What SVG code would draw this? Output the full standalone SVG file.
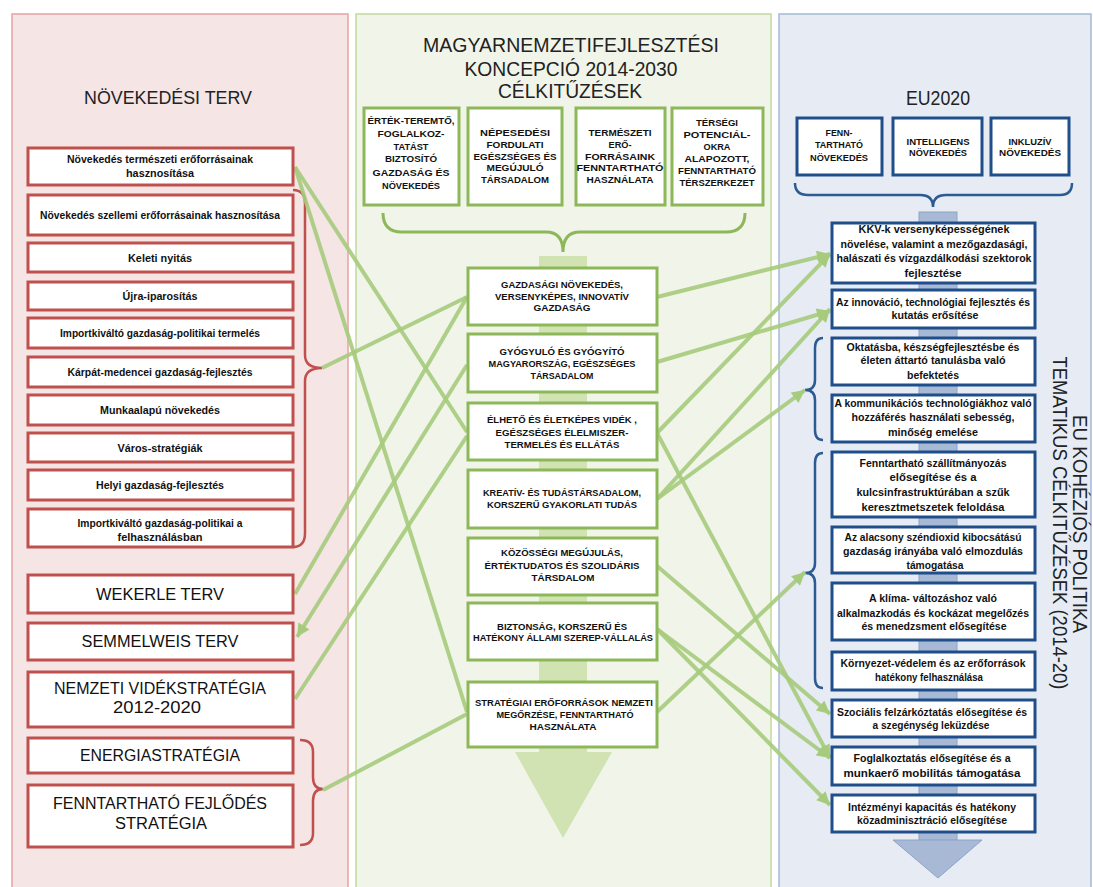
<svg xmlns="http://www.w3.org/2000/svg" width="1093" height="887" viewBox="0 0 1093 887">
<defs>
<style>
text{font-family:"Liberation Sans",Arial,sans-serif;fill:#111;text-anchor:middle}
.ls{font-size:10.5px;font-weight:bold}
.lb{font-size:16px}
.ms{font-size:9px;font-weight:bold}
.ts{font-size:9.5px;font-weight:bold}
.rs{font-size:10.5px;font-weight:bold}
.hd{font-size:20px;fill:#222}
.rb{fill:#fff;stroke:#c0504d;stroke-width:3}
.gb{fill:#fff;stroke:#8db85a;stroke-width:3}
.bb{fill:#fff;stroke:#1f4e8a;stroke-width:3}
.con{fill:none;stroke:#a6cb7c;stroke-width:4;stroke-opacity:0.9}
.brr{fill:none;stroke:#c0504d;stroke-width:2.5}
.brg{fill:none;stroke:#8db85a;stroke-width:3}
.brb{fill:none;stroke:#2c5a92;stroke-width:2.5}
</style>
<marker id="ah" viewBox="0 0 10 10" refX="10" refY="5" markerUnits="userSpaceOnUse" markerWidth="14" markerHeight="13" orient="auto">
<path d="M0,0 L10,5 L0,10 z" fill="#a6cb7c"/>
</marker>
</defs>

<!-- panels -->
<rect x="12" y="14" width="336" height="880" fill="#f5e5e5" stroke="#e6a3a3" stroke-width="1.5"/>
<rect x="356" y="14" width="415" height="880" fill="#f1f4e8" stroke="#c2d99e" stroke-width="1.5"/>
<rect x="779" y="14" width="312" height="880" fill="#e7ecf4" stroke="#a5b9d7" stroke-width="1.5"/>

<!-- headers -->
<text class="hd" x="168" y="104" textLength="168" lengthAdjust="spacingAndGlyphs" style="font-size:19px">NÖVEKEDÉSI TERV</text>
<text class="hd" x="571" y="52" textLength="296" lengthAdjust="spacingAndGlyphs">MAGYARNEMZETIFEJLESZTÉSI</text>
<text class="hd" x="571" y="76" textLength="213" lengthAdjust="spacingAndGlyphs">KONCEPCIÓ  2014-2030</text>
<text class="hd" x="570" y="98" textLength="144" lengthAdjust="spacingAndGlyphs">CÉLKITŰZÉSEK</text>
<text class="hd" x="938" y="105" textLength="64" lengthAdjust="spacingAndGlyphs">EU2020</text>
<text class="hd" transform="translate(1073,524) rotate(90)" textLength="218" lengthAdjust="spacingAndGlyphs">EU KOHÉZIÓS POLITIKA</text>
<text class="hd" transform="translate(1053,523) rotate(90)" textLength="333" lengthAdjust="spacingAndGlyphs">TEMATIKUS CÉLKITŰZÉSEK (2014-20)</text>

<!-- vertical bands -->
<g id="green-flow">
<rect x="539" y="256" width="48" height="496" fill="#d2e3b3"/>
<path d="M515,752 L612,752 L563,838 z" fill="#d2e3b3"/>
</g>
<g id="blue-flow">
<rect x="919" y="212" width="38" height="628" fill="#a7b9d5" stroke="#8ea4c8" stroke-width="1"/>
<path d="M893,840 L982,840 L938,878 z" fill="#a7b9d5" stroke="#8ea4c8" stroke-width="1"/>
</g>

<!-- braces -->
<g id="braces">
<path class="brr" d="M293,190 Q305,190 305,203 L305,355 Q305,368 322,368 Q305,368 305,381 L305,533 Q305,547 293,547"/>
<path class="brr" d="M300,740 Q313,740 313,752 L313,777 Q313,789 323,789 Q313,789 313,801 L313,833 Q313,845 300,845"/>
<path class="brg" d="M383,213 Q383,232 402,232 L546,232 Q563,232 563,252 Q563,232 580,232 L726,232 Q745,232 745,213"/>
<path class="brb" d="M795,183 Q795,195 808,195 L920,195 Q933,195 933,207 Q933,195 946,195 L1060,195 Q1072,195 1072,183"/>
<path class="brb" d="M823,338 Q815,338 815,348 L815,380 Q815,390 805,390 Q815,390 815,400 L815,430 Q815,440 823,440"/>
<path class="brb" d="M823,453 Q815,453 815,463 L815,563 Q815,573 805,573 Q815,573 815,583 L815,678 Q815,688 823,688"/>
</g>

<!-- connectors -->
<g id="connectors">
<line class="con" x1="295" y1="167" x2="467" y2="432"/>
<line class="con" x1="295" y1="167" x2="467" y2="712"/>
<line class="con" x1="322" y1="368" x2="467" y2="297"/>
<line class="con" x1="467" y1="297" x2="295" y2="594"/>
<line class="con" x1="467" y1="365" x2="297" y2="637" marker-end="url(#ah)"/>
<line class="con" x1="467" y1="436" x2="295" y2="699"/>
<line class="con" x1="467" y1="714" x2="323" y2="790"/>
<line class="con" x1="657" y1="297" x2="830" y2="254" marker-end="url(#ah)"/>
<line class="con" x1="657" y1="362" x2="830" y2="311" marker-end="url(#ah)"/>
<line class="con" x1="657" y1="433" x2="830" y2="254" marker-end="url(#ah)"/>
<line class="con" x1="657" y1="433" x2="830" y2="758" marker-end="url(#ah)"/>
<line class="con" x1="657" y1="499" x2="830" y2="309" marker-end="url(#ah)"/>
<line class="con" x1="657" y1="499" x2="805" y2="390" marker-end="url(#ah)"/>
<line class="con" x1="657" y1="566" x2="830" y2="714" marker-end="url(#ah)"/>
<line class="con" x1="657" y1="629" x2="830" y2="758" marker-end="url(#ah)"/>
<line class="con" x1="657" y1="629" x2="830" y2="805" marker-end="url(#ah)"/>
<line class="con" x1="657" y1="712" x2="805" y2="572" marker-end="url(#ah)"/>
</g>

<!-- left nodes -->
<g id="n-l1"><rect class="rb" x="28" y="148" width="265" height="37"/><text class="ls" x="160" y="163" textLength="186" lengthAdjust="spacingAndGlyphs">Növekedés természeti erőforrásainak</text><text class="ls" x="160" y="177" textLength="68" lengthAdjust="spacingAndGlyphs">hasznosítása</text></g>
<g id="n-l2"><rect class="rb" x="28" y="195" width="265" height="40"/><text class="ls" x="160" y="219" textLength="240" lengthAdjust="spacingAndGlyphs">Növekedés szellemi erőforrásainak hasznosítása</text></g>
<g id="n-l3"><rect class="rb" x="28" y="243" width="265" height="29"/><text class="ls" x="160" y="262" textLength="64" lengthAdjust="spacingAndGlyphs">Keleti nyitás</text></g>
<g id="n-l4"><rect class="rb" x="28" y="282" width="265" height="28"/><text class="ls" x="160" y="300" textLength="75" lengthAdjust="spacingAndGlyphs">Újra-iparosítás</text></g>
<g id="n-l5"><rect class="rb" x="28" y="318" width="265" height="30"/><text class="ls" x="160" y="337" textLength="200" lengthAdjust="spacingAndGlyphs">Importkiváltó gazdaság-politikai termelés</text></g>
<g id="n-l6"><rect class="rb" x="28" y="357" width="265" height="30"/><text class="ls" x="160" y="376" textLength="185" lengthAdjust="spacingAndGlyphs">Kárpát-medencei gazdaság-fejlesztés</text></g>
<g id="n-l7"><rect class="rb" x="28" y="395" width="265" height="30"/><text class="ls" x="160" y="414" textLength="120" lengthAdjust="spacingAndGlyphs">Munkaalapú növekedés</text></g>
<g id="n-l8"><rect class="rb" x="28" y="433" width="265" height="29"/><text class="ls" x="160" y="452" textLength="85" lengthAdjust="spacingAndGlyphs">Város-stratégiák</text></g>
<g id="n-l9"><rect class="rb" x="28" y="470" width="265" height="30"/><text class="ls" x="160" y="489" textLength="128" lengthAdjust="spacingAndGlyphs">Helyi gazdaság-fejlesztés</text></g>
<g id="n-l10"><rect class="rb" x="28" y="509" width="265" height="38"/><text class="ls" x="160" y="527" textLength="165" lengthAdjust="spacingAndGlyphs">Importkiváltó gazdaság-politikai a</text><text class="ls" x="160" y="541" textLength="85" lengthAdjust="spacingAndGlyphs">felhasználásban</text></g>
<g id="n-l11"><rect class="rb" x="28" y="575" width="265" height="38"/><text class="lb" x="160" y="600" textLength="128" lengthAdjust="spacingAndGlyphs">WEKERLE TERV</text></g>
<g id="n-l12"><rect class="rb" x="28" y="623" width="265" height="37"/><text class="lb" x="160" y="647" textLength="157" lengthAdjust="spacingAndGlyphs">SEMMELWEIS TERV</text></g>
<g id="n-l13"><rect class="rb" x="28" y="672" width="265" height="55"/><text class="lb" x="160" y="694" textLength="212" lengthAdjust="spacingAndGlyphs">NEMZETI VIDÉKSTRATÉGIA</text><text class="lb" x="157" y="713" textLength="88" lengthAdjust="spacingAndGlyphs">2012-2020</text></g>
<g id="n-l14"><rect class="rb" x="28" y="738" width="265" height="35"/><text class="lb" x="160" y="761" textLength="160" lengthAdjust="spacingAndGlyphs">ENERGIASTRATÉGIA</text></g>
<g id="n-l15"><rect class="rb" x="28" y="785" width="265" height="62"/><text class="lb" x="160" y="809" textLength="214" lengthAdjust="spacingAndGlyphs">FENNTARTHATÓ FEJLŐDÉS</text><text class="lb" x="161" y="829" textLength="92" lengthAdjust="spacingAndGlyphs">STRATÉGIA</text></g>

<!-- middle top nodes -->
<g id="n-t1"><rect class="gb" x="364" y="108" width="95" height="97"/>
<text class="ts" x="411" y="124" textLength="87" lengthAdjust="spacingAndGlyphs">ÉRTÉK-TEREMTŐ,</text>
<text class="ts" x="411" y="137" textLength="67" lengthAdjust="spacingAndGlyphs">FOGLALKOZ-</text>
<text class="ts" x="411" y="150" textLength="35" lengthAdjust="spacingAndGlyphs">TATÁST</text>
<text class="ts" x="411" y="162" textLength="52" lengthAdjust="spacingAndGlyphs">BIZTOSÍTÓ</text>
<text class="ts" x="411" y="176" textLength="77" lengthAdjust="spacingAndGlyphs">GAZDASÁG ÉS</text>
<text class="ts" x="411" y="189" textLength="58" lengthAdjust="spacingAndGlyphs">NÖVEKEDÉS</text></g>
<g id="n-t2"><rect class="gb" x="468" y="108" width="94" height="97"/>
<text class="ts" x="515" y="136" textLength="70" lengthAdjust="spacingAndGlyphs">NÉPESEDÉSI</text>
<text class="ts" x="515" y="148" textLength="57" lengthAdjust="spacingAndGlyphs">FORDULATI</text>
<text class="ts" x="515" y="160" textLength="83" lengthAdjust="spacingAndGlyphs">EGÉSZSÉGES ÉS</text>
<text class="ts" x="515" y="171" textLength="57" lengthAdjust="spacingAndGlyphs">MEGÚJULÓ</text>
<text class="ts" x="515" y="183" textLength="68" lengthAdjust="spacingAndGlyphs">TÁRSADALOM</text></g>
<g id="n-t3"><rect class="gb" x="576" y="108" width="89" height="97"/>
<text class="ts" x="620" y="136" textLength="63" lengthAdjust="spacingAndGlyphs">TERMÉSZETI</text>
<text class="ts" x="620" y="148" textLength="23" lengthAdjust="spacingAndGlyphs">ERŐ-</text>
<text class="ts" x="620" y="160" textLength="70" lengthAdjust="spacingAndGlyphs">FORRÁSAINK</text>
<text class="ts" x="620" y="171" textLength="87" lengthAdjust="spacingAndGlyphs">FENNTARTHATÓ</text>
<text class="ts" x="620" y="183" textLength="67" lengthAdjust="spacingAndGlyphs">HASZNÁLATA</text></g>
<g id="n-t4"><rect class="gb" x="672" y="108" width="91" height="97"/>
<text class="ts" x="717" y="126" textLength="42" lengthAdjust="spacingAndGlyphs">TÉRSÉGI</text>
<text class="ts" x="717" y="138" textLength="67" lengthAdjust="spacingAndGlyphs">POTENCIÁL-</text>
<text class="ts" x="717" y="150" textLength="27" lengthAdjust="spacingAndGlyphs">OKRA</text>
<text class="ts" x="717" y="162" textLength="65" lengthAdjust="spacingAndGlyphs">ALAPOZOTT,</text>
<text class="ts" x="717" y="174" textLength="78" lengthAdjust="spacingAndGlyphs">FENNTARTHATÓ</text>
<text class="ts" x="717" y="186" textLength="75" lengthAdjust="spacingAndGlyphs">TÉRSZERKEZET</text></g>

<!-- middle nodes -->
<g id="n-ma"><rect class="gb" x="468" y="268" width="189" height="57"/>
<text class="ms" x="562" y="288" textLength="122" lengthAdjust="spacingAndGlyphs">GAZDASÁGI NÖVEKEDÉS,</text>
<text class="ms" x="562" y="300" textLength="134" lengthAdjust="spacingAndGlyphs">VERSENYKÉPES, INNOVATÍV</text>
<text class="ms" x="562" y="311" textLength="57" lengthAdjust="spacingAndGlyphs">GAZDASÁG</text></g>
<g id="n-mb"><rect class="gb" x="468" y="334" width="189" height="58"/>
<text class="ms" x="562" y="355" textLength="125" lengthAdjust="spacingAndGlyphs">GYÓGYULÓ ÉS GYÓGYÍTÓ</text>
<text class="ms" x="562" y="367" textLength="147" lengthAdjust="spacingAndGlyphs">MAGYARORSZÁG, EGÉSZSÉGES</text>
<text class="ms" x="562" y="379" textLength="63" lengthAdjust="spacingAndGlyphs">TÁRSADALOM</text></g>
<g id="n-mc"><rect class="gb" x="468" y="403" width="189" height="57"/>
<text class="ms" x="562" y="423" textLength="150" lengthAdjust="spacingAndGlyphs">ÉLHETŐ ÉS ÉLETKÉPES VIDÉK ,</text>
<text class="ms" x="562" y="436" textLength="133" lengthAdjust="spacingAndGlyphs">EGÉSZSÉGES ÉLELMISZER-</text>
<text class="ms" x="562" y="448" textLength="115" lengthAdjust="spacingAndGlyphs">TERMELÉS ÉS ELLÁTÁS</text></g>
<g id="n-md"><rect class="gb" x="468" y="470" width="189" height="58"/>
<text class="ms" x="562" y="496" textLength="158" lengthAdjust="spacingAndGlyphs">KREATÍV- ÉS TUDÁSTÁRSADALOM,</text>
<text class="ms" x="562" y="508" textLength="150" lengthAdjust="spacingAndGlyphs">KORSZERŰ GYAKORLATI TUDÁS</text></g>
<g id="n-me"><rect class="gb" x="468" y="538" width="189" height="57"/>
<text class="ms" x="562" y="556" textLength="122" lengthAdjust="spacingAndGlyphs">KÖZÖSSÉGI MEGÚJULÁS,</text>
<text class="ms" x="562" y="569" textLength="155" lengthAdjust="spacingAndGlyphs">ÉRTÉKTUDATOS ÉS SZOLIDÁRIS</text>
<text class="ms" x="563" y="581" textLength="63" lengthAdjust="spacingAndGlyphs">TÁRSDALOM</text></g>
<g id="n-mf"><rect class="gb" x="468" y="603" width="189" height="57"/>
<text class="ms" x="562" y="630" textLength="130" lengthAdjust="spacingAndGlyphs">BIZTONSÁG, KORSZERŰ ÉS</text>
<text class="ms" x="563" y="641" textLength="180" lengthAdjust="spacingAndGlyphs">HATÉKONY ÁLLAMI SZEREP-VÁLLALÁS</text></g>
<g id="n-mg"><rect class="gb" x="468" y="682" width="189" height="65"/>
<text class="ms" x="564" y="706" textLength="178" lengthAdjust="spacingAndGlyphs">STRATÉGIAI ERŐFORRÁSOK NEMZETI</text>
<text class="ms" x="565" y="718" textLength="137" lengthAdjust="spacingAndGlyphs">MEGŐRZÉSE, FENNTARTHATÓ</text>
<text class="ms" x="563" y="730" textLength="67" lengthAdjust="spacingAndGlyphs">HASZNÁLATA</text></g>

<!-- EU2020 nodes -->
<g id="n-e1"><rect class="bb" x="797" y="118" width="85" height="57"/>
<text class="ts" x="839" y="136" textLength="27" lengthAdjust="spacingAndGlyphs">FENN-</text>
<text class="ts" x="839" y="148" textLength="48" lengthAdjust="spacingAndGlyphs">TARTHATÓ</text>
<text class="ts" x="839" y="161" textLength="58" lengthAdjust="spacingAndGlyphs">NÖVEKEDÉS</text></g>
<g id="n-e2"><rect class="bb" x="893" y="118" width="89" height="57"/>
<text class="ts" x="938" y="145" textLength="63" lengthAdjust="spacingAndGlyphs">INTELLIGENS</text>
<text class="ts" x="938" y="156" textLength="58" lengthAdjust="spacingAndGlyphs">NÖVEKEDÉS</text></g>
<g id="n-e3"><rect class="bb" x="991" y="118" width="78" height="57"/>
<text class="ts" x="1030" y="145" textLength="43" lengthAdjust="spacingAndGlyphs">INKLUZÍV</text>
<text class="ts" x="1030" y="156" textLength="62" lengthAdjust="spacingAndGlyphs">NÖVEKEDÉS</text></g>

<!-- right nodes -->
<g id="n-r1"><rect class="bb" x="832" y="223" width="203" height="60"/>
<text class="rs" x="934" y="233" textLength="151" lengthAdjust="spacingAndGlyphs">KKV-k versenyképességének</text>
<text class="rs" x="934" y="248" textLength="187" lengthAdjust="spacingAndGlyphs">növelése, valamint a mezőgazdasági,</text>
<text class="rs" x="934" y="262" textLength="195" lengthAdjust="spacingAndGlyphs">halászati és vízgazdálkodási szektorok</text>
<text class="rs" x="933" y="277" textLength="57" lengthAdjust="spacingAndGlyphs">fejlesztése</text></g>
<g id="n-r2"><rect class="bb" x="832" y="290" width="203" height="38"/>
<text class="rs" x="933" y="306" textLength="194" lengthAdjust="spacingAndGlyphs">Az innováció, technológiai fejlesztés és</text>
<text class="rs" x="935" y="319" textLength="87" lengthAdjust="spacingAndGlyphs">kutatás erősítése</text></g>
<g id="n-r3"><rect class="bb" x="832" y="338" width="203" height="47"/>
<text class="rs" x="933" y="351" textLength="173" lengthAdjust="spacingAndGlyphs">Oktatásba, készségfejlesztésbe és</text>
<text class="rs" x="933" y="364" textLength="145" lengthAdjust="spacingAndGlyphs">életen áttartó tanulásba való</text>
<text class="rs" x="933" y="379" textLength="52" lengthAdjust="spacingAndGlyphs">befektetés</text></g>
<g id="n-r4"><rect class="bb" x="832" y="395" width="203" height="47"/>
<text class="rs" x="933" y="407" textLength="197" lengthAdjust="spacingAndGlyphs">A kommunikációs technológiákhoz való</text>
<text class="rs" x="933" y="421" textLength="163" lengthAdjust="spacingAndGlyphs">hozzáférés használati sebesség,</text>
<text class="rs" x="933" y="436" textLength="90" lengthAdjust="spacingAndGlyphs">minőség emelése</text></g>
<g id="n-r5"><rect class="bb" x="832" y="452" width="203" height="65"/>
<text class="rs" x="933" y="467" textLength="147" lengthAdjust="spacingAndGlyphs">Fenntartható szállítmányozás</text>
<text class="rs" x="933" y="481" textLength="87" lengthAdjust="spacingAndGlyphs">elősegítése és a</text>
<text class="rs" x="933" y="496" textLength="153" lengthAdjust="spacingAndGlyphs">kulcsinfrastruktúrában a szűk</text>
<text class="rs" x="933" y="511" textLength="143" lengthAdjust="spacingAndGlyphs">keresztmetszetek feloldása</text></g>
<g id="n-r6"><rect class="bb" x="832" y="527" width="203" height="46"/>
<text class="rs" x="933" y="541" textLength="177" lengthAdjust="spacingAndGlyphs">Az alacsony széndioxid kibocsátású</text>
<text class="rs" x="933" y="555" textLength="180" lengthAdjust="spacingAndGlyphs">gazdaság irányába való elmozdulás</text>
<text class="rs" x="935" y="569" textLength="57" lengthAdjust="spacingAndGlyphs">támogatása</text></g>
<g id="n-r7"><rect class="bb" x="832" y="583" width="203" height="57"/>
<text class="rs" x="933" y="602" textLength="128" lengthAdjust="spacingAndGlyphs">A klíma- változáshoz való</text>
<text class="rs" x="933" y="617" textLength="192" lengthAdjust="spacingAndGlyphs">alkalmazkodás és kockázat megelőzés</text>
<text class="rs" x="934" y="630" textLength="145" lengthAdjust="spacingAndGlyphs">és menedzsment elősegítése</text></g>
<g id="n-r8"><rect class="bb" x="832" y="652" width="203" height="38"/>
<text class="rs" x="933" y="667" textLength="185" lengthAdjust="spacingAndGlyphs">Környezet-védelem és az erőforrások</text>
<text class="rs" x="929" y="681" textLength="108" lengthAdjust="spacingAndGlyphs">hatékony felhasználása</text></g>
<g id="n-r9"><rect class="bb" x="832" y="700" width="203" height="37"/>
<text class="rs" x="932" y="716" textLength="190" lengthAdjust="spacingAndGlyphs">Szociális felzárkóztatás elősegítése és</text>
<text class="rs" x="931" y="729" textLength="117" lengthAdjust="spacingAndGlyphs">a szegénység leküzdése</text></g>
<g id="n-r10"><rect class="bb" x="832" y="747" width="203" height="38"/>
<text class="rs" x="932" y="762" textLength="157" lengthAdjust="spacingAndGlyphs">Foglalkoztatás elősegítése és a</text>
<text class="rs" x="932" y="777" textLength="177" lengthAdjust="spacingAndGlyphs">munkaerő mobilitás támogatása</text></g>
<g id="n-r11"><rect class="bb" x="832" y="795" width="203" height="37"/>
<text class="rs" x="932" y="811" textLength="168" lengthAdjust="spacingAndGlyphs">Intézményi kapacitás és hatékony</text>
<text class="rs" x="932" y="824" textLength="150" lengthAdjust="spacingAndGlyphs">közadminisztráció elősegítése</text></g>
</svg>
